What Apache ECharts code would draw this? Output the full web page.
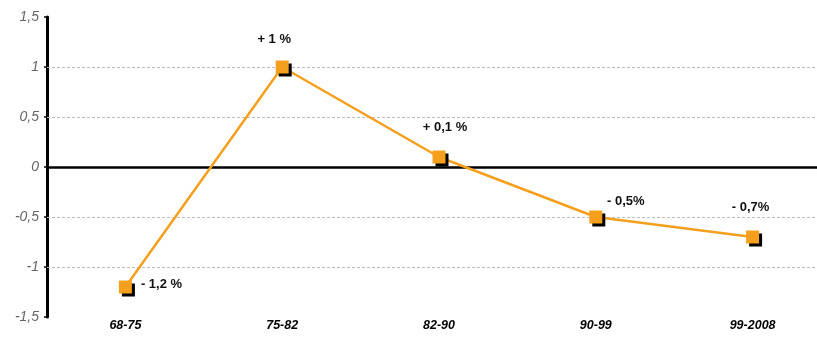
<!DOCTYPE html>
<html><head><meta charset="utf-8">
<script src="https://cdn.jsdelivr.net/npm/echarts@6/dist/echarts.min.js"></script>
<style>html,body{margin:0;padding:0;background:#fff}#c{width:817px;height:340px}</style>
</head><body><div id="c"></div>
<script>
var categories = ['68-75', '75-82', '82-90', '90-99', '99-2008'];
var values = [-1.2, 1.0, 0.1, -0.5, -0.7];
var labelTexts = ['- 1,2 %', '+ 1 %', '+ 0,1 %', '- 0,5%', '- 0,7%'];
var gridValues = [1, 0.5, -0.5, -1];
var yMin = -1.5, yMax = 1.5, yStep = 0.5;

// layout: label placement for each point
var labelLayout = [
  {position: 'right', offset: [4, -3]},
  {position: 'top', offset: [-8, -10]},
  {position: 'top', offset: [6, -12]},
  {position: 'top', offset: [30, 2]},
  {position: 'top', offset: [-2, -12]}
];

var data = values.map(function (v, i) {
  return {
    value: v,
    label: {show: true, position: labelLayout[i].position, offset: labelLayout[i].offset,
      formatter: labelTexts[i]}
  };
});

var markData = gridValues.map(function (g) {
  return {yAxis: g, lineStyle: {type: [3, 2], color: '#bdbdbd', width: 1}};
});
markData.push({yAxis: 0, lineStyle: {type: 'solid', color: '#000', width: 2.5}});

var chart = echarts.init(document.getElementById('c'));
chart.setOption({
  animation: false,
  grid: {left: 47, width: 784, top: 17, bottom: 23, containLabel: false, outerBoundsMode: 'none'},
  xAxis: {
    type: 'category', data: categories, boundaryGap: true,
    axisLine: {show: false}, axisTick: {show: false}, splitLine: {show: false},
    axisLabel: {color: '#000', fontStyle: 'italic', fontWeight: 'bold', fontSize: 12.5,
      fontFamily: 'Liberation Sans, Arial', margin: 2}
  },
  yAxis: {
    type: 'value', min: yMin, max: yMax, interval: yStep,
    axisLine: {show: true, lineStyle: {color: '#000', width: 3}},
    axisTick: {show: true, length: 3, lineStyle: {color: '#000', width: 1.5}},
    splitLine: {show: false},
    axisLabel: {color: '#666', fontStyle: 'italic', fontSize: 14, fontFamily: 'Liberation Sans, Arial',
      margin: 8,
      formatter: function (v) { return String(v).replace('.', ','); }}
  },
  series: [{
    type: 'line', data: data,
    symbol: 'rect', symbolSize: 13,
    lineStyle: {color: '#F4A01E', width: 2.5},
    itemStyle: {color: '#F4A01E', shadowColor: '#000', shadowOffsetX: 3, shadowOffsetY: 3, shadowBlur: 0},
    label: {color: '#111', fontWeight: 'bold', fontSize: 13, fontFamily: 'Liberation Sans, Arial'},
    markLine: {silent: true, symbol: 'none', label: {show: false}, data: markData, z: 1},
    z: 3
  }]
});
</script></body></html>
